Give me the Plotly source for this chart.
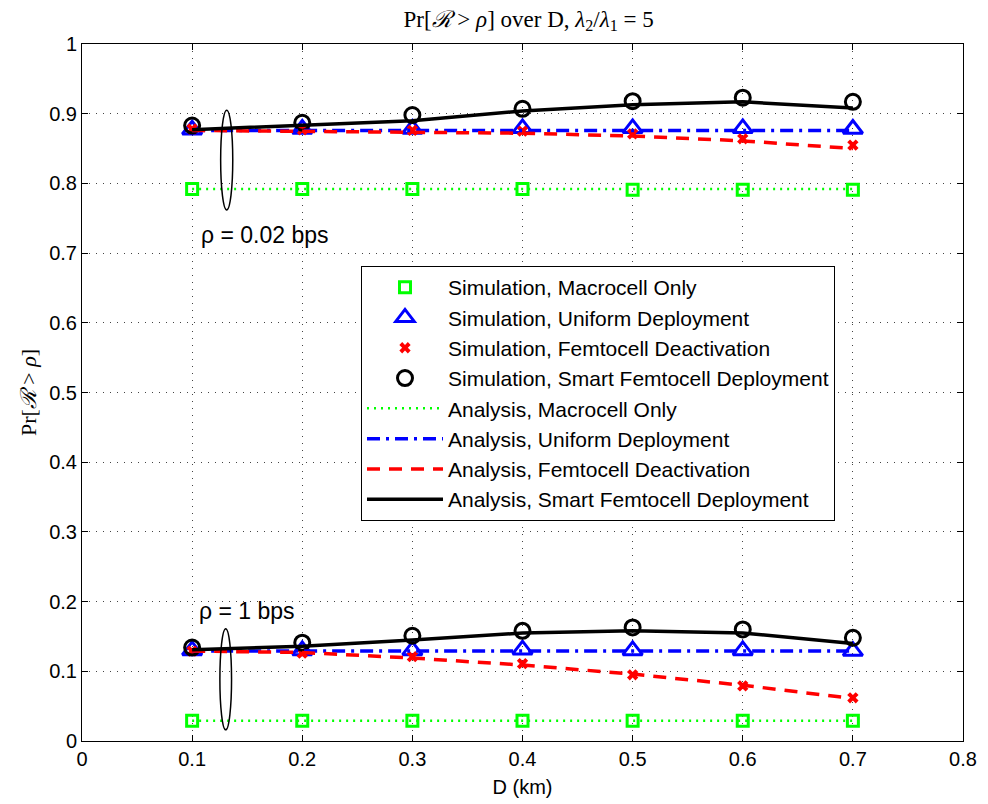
import plotly.graph_objects as go

D = [0.1, 0.2, 0.3, 0.4, 0.5, 0.6, 0.7]

# rho = 0.02 bps
sim_macro_hi = [0.792, 0.792, 0.792, 0.792, 0.791, 0.791, 0.791]
sim_uni_hi = [0.877, 0.878, 0.878, 0.879, 0.879, 0.879, 0.878]
sim_deact_hi = [0.878, 0.877, 0.876, 0.875, 0.871, 0.864, 0.855]
sim_smart_hi = [0.883, 0.887, 0.898, 0.907, 0.918, 0.923, 0.917]
ana_macro_hi = [0.792, 0.792, 0.792, 0.792, 0.792, 0.792, 0.792]
ana_uni_hi = [0.876, 0.876, 0.876, 0.876, 0.876, 0.876, 0.876]
ana_deact_hi = [0.876, 0.875, 0.873, 0.872, 0.868, 0.861, 0.850]
ana_smart_hi = [0.877, 0.883, 0.890, 0.904, 0.913, 0.917, 0.908]

# rho = 1 bps
sim_macro_lo = [0.029, 0.029, 0.029, 0.029, 0.029, 0.029, 0.029]
sim_uni_lo = [0.130, 0.130, 0.130, 0.131, 0.130, 0.130, 0.129]
sim_deact_lo = [0.129, 0.126, 0.121, 0.111, 0.095, 0.079, 0.062]
sim_smart_lo = [0.134, 0.141, 0.151, 0.158, 0.163, 0.160, 0.148]
ana_macro_lo = [0.029, 0.029, 0.029, 0.029, 0.029, 0.029, 0.029]
ana_uni_lo = [0.129, 0.129, 0.129, 0.129, 0.129, 0.129, 0.129]
ana_deact_lo = [0.129, 0.127, 0.119, 0.109, 0.096, 0.080, 0.061]
ana_smart_lo = [0.131, 0.136, 0.145, 0.155, 0.158, 0.155, 0.140]

x_ticks = [0, 0.1, 0.2, 0.3, 0.4, 0.5, 0.6, 0.7, 0.8]
x_tick_labels = ["0", "0.1", "0.2", "0.3", "0.4", "0.5", "0.6", "0.7", "0.8"]
y_ticks = [0, 0.1, 0.2, 0.3, 0.4, 0.5, 0.6, 0.7, 0.8, 0.9, 1]
y_tick_labels = ["0", "0.1", "0.2", "0.3", "0.4", "0.5", "0.6", "0.7", "0.8", "0.9", "1"]

# annotation ellipses: (x_center, half_width, y_low, y_high)
ellipse_hi = (0.1314, 0.0055, 0.762, 0.905)
ellipse_lo = (0.1305, 0.0053, 0.016, 0.161)
label_hi = ("ρ = 0.02 bps", 0.1665, 0.726)
label_lo = ("ρ = 1 bps", 0.1495, 0.186)

GREEN, BLUE, RED, BLACK = "#00ff00", "#0000ff", "#ff0000", "#000000"
SANS = "Liberation Sans, Arial"
SERIF = "Liberation Serif, Times New Roman"

fig = go.Figure()

sims = [
    ("Simulation, Macrocell Only", sim_macro_hi, sim_macro_lo,
     dict(symbol="square-open", size=11, color=GREEN, line=dict(width=3, color=GREEN))),
    ("Simulation, Uniform Deployment", sim_uni_hi, sim_uni_lo,
     dict(symbol="triangle-up-open", size=17, color=BLUE, line=dict(width=3, color=BLUE))),
    ("Simulation, Femtocell Deactivation", sim_deact_hi, sim_deact_lo,
     dict(symbol="x", size=10, color=RED, line=dict(width=0))),
    ("Simulation, Smart Femtocell Deployment", sim_smart_hi, sim_smart_lo,
     dict(symbol="circle-open", size=15, color=BLACK, line=dict(width=3, color=BLACK))),
]
anas = [
    ("Analysis, Macrocell Only", ana_macro_hi, ana_macro_lo,
     dict(color=GREEN, width=2.5, dash="2px,5px")),
    ("Analysis, Uniform Deployment", ana_uni_hi, ana_uni_lo,
     dict(color=BLUE, width=3.5, dash="13px,6px,3px,6px")),
    ("Analysis, Femtocell Deactivation", ana_deact_hi, ana_deact_lo,
     dict(color=RED, width=3.5, dash="13px,9px")),
    ("Analysis, Smart Femtocell Deployment", ana_smart_hi, ana_smart_lo,
     dict(color=BLACK, width=3.5)),
]

for name, hi, lo, mk in sims:
    for i, ys in enumerate([hi, lo]):
        fig.add_trace(go.Scatter(x=D, y=ys, mode="markers", marker=mk, name=name,
                                 legendgroup=name, showlegend=(i == 0)))
for name, hi, lo, ln in anas:
    for i, ys in enumerate([hi, lo]):
        fig.add_trace(go.Scatter(x=D, y=ys, mode="lines", line=ln, name=name,
                                 legendgroup=name, showlegend=(i == 0)))

for (xc, hw, y0, y1) in [ellipse_hi, ellipse_lo]:
    fig.add_shape(type="circle", xref="x", yref="y", x0=xc - hw, x1=xc + hw, y0=y0, y1=y1,
                  line=dict(color="black", width=1.5))

for (txt, xa, ya) in [label_hi, label_lo]:
    fig.add_annotation(x=xa, y=ya, xref="x", yref="y", text=txt, showarrow=False,
                       font=dict(family=SANS, size=23, color="black"))

axis_common = dict(showline=True, linecolor="black", linewidth=1, mirror="ticks",
                   ticks="inside", ticklen=6, tickcolor="black",
                   showgrid=True, gridcolor="#444444", gridwidth=1, griddash="1px,6px",
                   zeroline=False, automargin=False,
                   tickfont=dict(family=SANS, size=20, color="black"))

fig.update_xaxes(range=[0, 0.8], tickvals=x_ticks, ticktext=x_tick_labels,
                 title=dict(text="D (km)", font=dict(family=SANS, size=20, color="black"),
                            standoff=10),
                 **axis_common)
fig.update_yaxes(range=[0, 1], tickvals=y_ticks, ticktext=y_tick_labels,
                 title=dict(text="Pr[<i>ℛ</i> &gt; <i>ρ</i>]",
                            font=dict(family=SERIF, size=22, color="black"),
                            standoff=6),
                 **axis_common)

fig.update_layout(
    width=988, height=804,
    margin=dict(l=82, r=25, t=44, b=63),
    paper_bgcolor="white", plot_bgcolor="white",
    title=dict(text="Pr[<i>ℛ</i> &gt; <i>ρ</i>] over D, <i>λ</i><sub>2</sub>/<i>λ</i><sub>1</sub> = 5",
               x=0.535, xanchor="center", y=0.977, yanchor="middle",
               font=dict(family=SERIF, size=23, color="black")),
    legend=dict(x=(361 - 82) / 881, y=(741 - 266) / 697, xanchor="left", yanchor="top",
                bgcolor="white", bordercolor="black", borderwidth=1,
                font=dict(family=SANS, size=21, color="black"),
                itemwidth=76, tracegroupgap=0, itemsizing="trace"),
    showlegend=True,
)

fig.write_html("out.html")
